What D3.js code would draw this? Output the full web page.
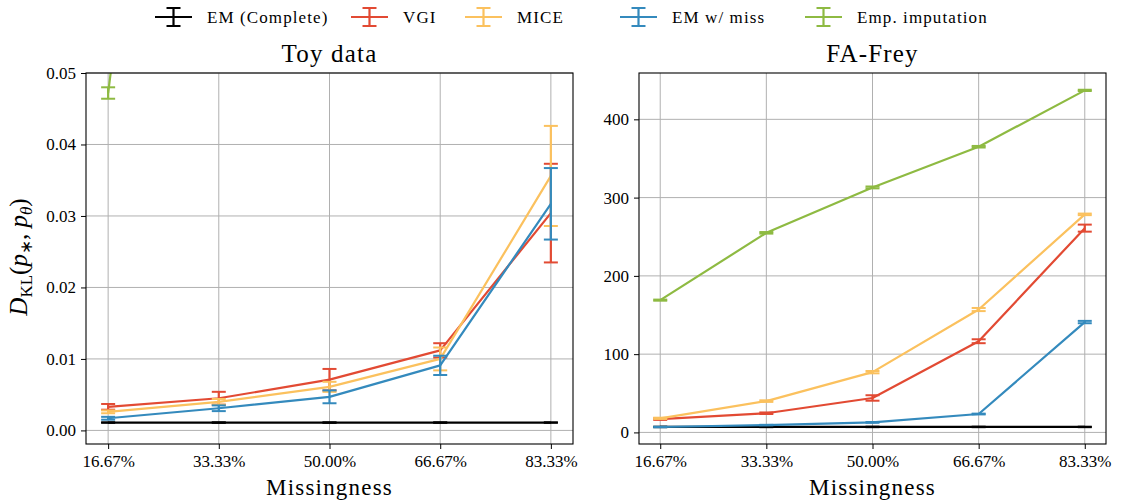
<!DOCTYPE html>
<html><head><meta charset="utf-8">
<script src="https://cdn.jsdelivr.net/npm/d3@7"></script>
<style>
html,body{margin:0;padding:0;background:#fff;}
svg text{font-family:"Liberation Serif",serif !important;fill:#000;}
</style></head>
<body>
<svg id="chart" width="1136" height="501"></svg>
<script>
// ---------- data ----------
const categories = ["16.67%", "33.33%", "50.00%", "66.67%", "83.33%"];
const xValues = [16.67, 33.33, 50.0, 66.67, 83.33];
const seriesNames = ["EM (Complete)", "VGI", "MICE", "EM w/ miss", "Emp. imputation"];
const seriesColors = ["#000000", "#E24A33", "#FBC15E", "#348ABD", "#8EBA42"];

// Toy data
const toyEM = [0.0011, 0.0011, 0.0011, 0.0011, 0.0011];
const toyEMErr = [0.00003, 0.00003, 0.00003, 0.00003, 0.00003];
const toyVGI = [0.0033, 0.0045, 0.0071, 0.0112, 0.0304];
const toyVGIErr = [0.0004, 0.0009, 0.0015, 0.0010, 0.0069];
const toyMICE = [0.0026, 0.0040, 0.0061, 0.0100, 0.0356];
const toyMICEErr = [0.0002, 0.0004, 0.0007, 0.0016, 0.0070];
const toyMiss = [0.0017, 0.0031, 0.0047, 0.0091, 0.0317];
const toyMissErr = [0.0002, 0.0004, 0.0009, 0.00135, 0.0050];
const toyEmp = [0.0472, 0.17, 0.29, 0.41, 0.55];
const toyEmpErr = [0.0008, 0.001, 0.001, 0.001, 0.001];
const toyYTicks = [0.00, 0.01, 0.02, 0.03, 0.04, 0.05];

// FA-Frey
const freyEM = [7, 7, 7, 7, 7];
const freyEMErr = [0.3, 0.3, 0.3, 0.3, 0.3];
const freyVGI = [17, 24.5, 44, 116.5, 261];
const freyVGIErr = [1, 1, 3.5, 2.5, 4.5];
const freyMICE = [18, 40, 77, 157, 278.6];
const freyMICEErr = [0.8, 1, 1.5, 2, 1];
const freyMiss = [6.9, 9.4, 12.8, 23.5, 141];
const freyMissErr = [0.3, 0.3, 0.5, 0.5, 1.5];
const freyEmp = [169, 255, 313, 365, 437];
const freyEmpErr = [0.7, 1, 1.2, 1, 0.8];
const freyYTicks = [0, 100, 200, 300, 400];

const panels = [
  {title: "Toy data", left: 86, right: 573, top: 73, bottom: 444, yDomain: [-0.0019, 0.05],
   yTicks: toyYTicks, yFmt: d3.format(".2f"),
   series: [[toyEM, toyEMErr], [toyVGI, toyVGIErr], [toyMICE, toyMICEErr], [toyMiss, toyMissErr], [toyEmp, toyEmpErr]]},
  {title: "FA-Frey", left: 639, right: 1106, top: 73, bottom: 444, yDomain: [-14.8, 459.2],
   yTicks: freyYTicks, yFmt: d3.format("d"),
   series: [[freyEM, freyEMErr], [freyVGI, freyVGIErr], [freyMICE, freyMICEErr], [freyMiss, freyMissErr], [freyEmp, freyEmpErr]]}
];

const svg = d3.select("#chart");
const LW = 2.2, CAP = 7;
const SERIF = '"Liberation Serif", serif';

panels.forEach((p, pi) => {
  const span = xValues[4] - xValues[0];
  const x = d3.scaleLinear().domain([xValues[0] - 0.05 * span, xValues[4] + 0.05 * span]).range([p.left, p.right]);
  const y = d3.scaleLinear().domain(p.yDomain).range([p.bottom, p.top]);
  const g = svg.append("g");
  const clipId = "clip" + pi;
  svg.append("clipPath").attr("id", clipId).append("rect")
    .attr("x", p.left).attr("y", p.top).attr("width", p.right - p.left).attr("height", p.bottom - p.top);

  // grid
  g.selectAll(".gx").data(xValues).enter().append("line")
    .attr("x1", d => x(d)).attr("x2", d => x(d)).attr("y1", p.top).attr("y2", p.bottom)
    .attr("stroke", "#b0b0b0").attr("stroke-width", 1);
  g.selectAll(".gy").data(p.yTicks).enter().append("line")
    .attr("y1", d => y(d)).attr("y2", d => y(d)).attr("x1", p.left).attr("x2", p.right)
    .attr("stroke", "#b0b0b0").attr("stroke-width", 1);

  // axes
  const xAxis = d3.axisBottom(x).tickValues(xValues).tickFormat((d, i) => categories[i]).tickSize(5).tickPadding(6);
  const gx = g.append("g").attr("transform", `translate(0,${p.bottom})`).call(xAxis);
  const yAxis = d3.axisLeft(y).tickValues(p.yTicks).tickFormat(p.yFmt).tickSize(5).tickPadding(5);
  const gy = g.append("g").attr("transform", `translate(${p.left},0)`).call(yAxis);
  [gx, gy].forEach(a => {
    a.attr("font-family", null).attr("font-size", null);
    a.select(".domain").remove();
    a.selectAll("line").attr("stroke", "#000").attr("stroke-width", 1);
    a.selectAll("text").style("font-family", SERIF).style("font-size", "17px").attr("fill", "#000");
  });

  // series
  const plot = g.append("g").attr("clip-path", `url(#${clipId})`);
  p.series.forEach((s, si) => {
    const vals = s[0], errs = s[1], col = seriesColors[si];
    const pts = vals.map((v, i) => [xValues[i], v, errs[i]]);
    plot.append("path").datum(pts)
      .attr("d", d3.line().x(d => x(d[0])).y(d => y(d[1])))
      .attr("fill", "none").attr("stroke", col).attr("stroke-width", LW).attr("stroke-linejoin", "round");
    const eb = plot.append("g");
    pts.forEach(d => {
      const cx = x(d[0]), y0 = y(d[1] - d[2]), y1 = y(d[1] + d[2]);
      eb.append("line").attr("x1", cx).attr("x2", cx).attr("y1", y0).attr("y2", y1).attr("stroke", col).attr("stroke-width", LW);
      [y0, y1].forEach(yy => eb.append("line").attr("x1", cx - CAP).attr("x2", cx + CAP).attr("y1", yy).attr("y2", yy)
        .attr("stroke", col).attr("stroke-width", 2));
    });
  });

  // frame
  g.append("rect").attr("x", p.left).attr("y", p.top).attr("width", p.right - p.left).attr("height", p.bottom - p.top)
    .attr("fill", "none").attr("stroke", "#000").attr("stroke-width", 1.1);

  // title and x label
  const cx = (p.left + p.right) / 2;
  g.append("text").attr("x", cx).attr("y", 62).attr("text-anchor", "middle").style("font-family", SERIF).style("font-size", "25px")
    .attr("letter-spacing", 1.2).text(p.title);
  g.append("text").attr("x", cx).attr("y", 495).attr("text-anchor", "middle").style("font-family", SERIF).style("font-size", "23px")
    .attr("letter-spacing", 1.2).text("Missingness");
});

// y label
const yl = svg.append("text").attr("transform", "translate(27,257) rotate(-90)").attr("text-anchor", "middle")
  .style("font-family", SERIF).style("font-size", "25px");
yl.append("tspan").attr("font-style", "italic").text("D");
yl.append("tspan").style("font-size", "17px").attr("dy", 5).text("KL");
yl.append("tspan").attr("dy", -5).text("(");
yl.append("tspan").attr("font-style", "italic").text("p");
yl.append("tspan").style("font-size", "17px").attr("dy", 5).text("∗");
yl.append("tspan").attr("dy", -5).text(", ");
yl.append("tspan").attr("font-style", "italic").text("p");
yl.append("tspan").style("font-size", "17px").attr("font-style", "italic").attr("dy", 5).text("θ");
yl.append("tspan").attr("dy", -5).text(")");

// legend
const legendX = [155, 351, 465, 620, 805];
const lg = svg.append("g");
seriesNames.forEach((n, i) => {
  const x0 = legendX[i], col = seriesColors[i], ly = 17;
  lg.append("line").attr("x1", x0).attr("x2", x0 + 37).attr("y1", ly).attr("y2", ly).attr("stroke", col).attr("stroke-width", LW);
  lg.append("line").attr("x1", x0 + 18.5).attr("x2", x0 + 18.5).attr("y1", ly - 9).attr("y2", ly + 9).attr("stroke", col).attr("stroke-width", LW);
  [ly - 9, ly + 9].forEach(yy => lg.append("line").attr("x1", x0 + 18.5 - CAP).attr("x2", x0 + 18.5 + CAP).attr("y1", yy).attr("y2", yy).attr("stroke", col).attr("stroke-width", 2));
  lg.append("text").attr("x", x0 + 52).attr("y", 23).style("font-family", SERIF).style("font-size", "17px").attr("letter-spacing", 1.1).text(n);
});
</script>
</body></html>
